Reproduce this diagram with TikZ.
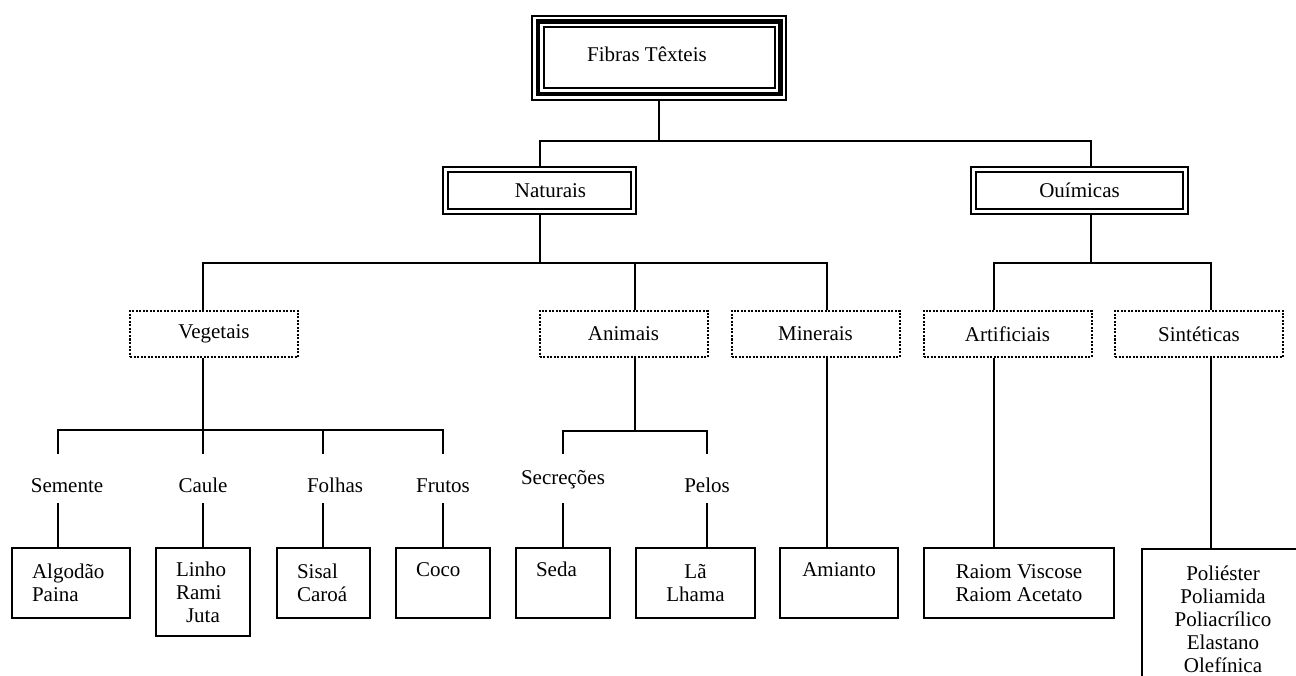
\documentclass[tikz,border=0pt]{standalone}
\usepackage{fontspec}
\setmainfont{Liberation Serif}

\begin{document}
\begin{tikzpicture}[x=1pt, y=-1pt,
    every node/.style={font=\fontsize{21}{23}\selectfont, inner sep=0pt},
    topbox/.style={draw, line width=4.5pt, preaction={draw, line width=13.5pt}, preaction={draw, white, line width=9.5pt}, outer sep=6.75pt, minimum width=242.5pt, minimum height=72.5pt, text depth=7pt},
    groupbox/.style={draw, line width=2pt, double, double distance=3pt, outer sep=3.5pt, minimum height=42pt},
    classbox/.style={draw, line width=2pt, dash pattern=on 2pt off 1.5pt, minimum width=168pt, minimum height=46pt},
    cat/.style={text height=38pt, text depth=11pt},
    leaf/.style={draw, line width=2pt, minimum height=70pt},
    leftleaf/.style={leaf, align=left, inner xsep=20pt},
    oneline/.style={text height=15pt, text depth=28pt},
    link/.style={line width=2pt}]

    \useasboundingbox (0,0) rectangle (1296,676);
    \clip (0,0) rectangle (1296,676);

    % Nodes
    \node [topbox] (title) at (659,58) {\hspace*{-24pt}Fibras Têxteis};
    \node [groupbox, minimum width=188pt] (nat) at (539.5,190.5) {\hspace*{22pt}Naturais};
    \node [groupbox, minimum width=212pt] (chem) at (1079.5,190.5) {Ouímicas};

    \node [classbox] (veg) at (214,334) {Vegetais};
    \node [classbox] (ani) at (623.5,334) {Animais};
    \node [classbox] (min) at (815.5,334) {Minerais};
    \node [classbox] (art) at (1007.5,334) {Artificiais};
    \node [classbox] (syn) at (1199,334) {Sintéticas};

    \node [cat] (sem) at (67,478.5) {Semente};
    \node [cat] (caule) at (203,478.5) {Caule};
    \node [cat] (folhas) at (335,478.5) {Folhas};
    \node [cat] (frutos) at (443,478.5) {Frutos};
    \node [cat, text height=30pt, text depth=19pt] (secr) at (563,478.5) {Secreções};
    \node [cat] (pelos) at (707,478.5) {Pelos};

    \node [leftleaf, text width=78pt] (alg) at (71,583) {Algodão\\Paina};
    \node [leftleaf, text width=54pt, minimum height=88pt] (lin) at (203,592) {Linho\\Rami\\\hspace*{10pt}Juta};
    \node [leftleaf, text width=53pt] (sis) at (323.5,583) {Sisal\\Caroá};
    \node [leftleaf, oneline, text width=54pt] (coco) at (443,583) {Coco};
    \node [leftleaf, oneline, text width=54pt] (seda) at (563,583) {Seda};
    \node [leaf, align=center, minimum width=119pt] (la) at (695.5,583) {Lã\\Lhama};
    \node [leaf, oneline, minimum width=118pt] (ami) at (839,583) {Amianto};
    \node [leaf, align=center, minimum width=190pt] (ray) at (1019,583) {Raiom Viscose\\Raiom Acetato};
    \node [leaf, align=center, minimum width=162pt, minimum height=140pt] (pol) at (1223,619) {Poliéster\\Poliamida\\Poliacrílico\\Elastano\\Olefínica};

    % Bus points
    \coordinate (b0) at (659,141);
    \coordinate (b1) at (539.5,263);
    \coordinate (b2) at (1091,263);
    \coordinate (b3) at (203,430);
    \coordinate (b4) at (635,431);

    % Lines
    \draw [link] (title.south) -- (b0);
    \draw [link] (nat.north) |- (b0) -| ([xshift=11.5pt]chem.north);

    \draw [link] (nat.south) -- (b1);
    \draw [link] ([xshift=-11pt]veg.north) |- (b1) -| ([xshift=11.5pt]min.north);
    \draw [link] ([xshift=11.5pt]ani.north) -- ([xshift=11.5pt]ani.north |- b1);

    \draw [link] ([xshift=11.5pt]chem.south) -- (b2);
    \draw [link] ([xshift=-13.5pt]art.north) |- (b2) -| ([xshift=12pt]syn.north);

    \draw [link] ([xshift=-11pt]veg.south) -- (caule.north);
    \draw [link] ([xshift=-9pt]sem.north) |- (b3) -| (frutos.north);
    \draw [link] ([xshift=-12pt]folhas.north) -- ([xshift=-12pt]folhas.north |- b3);

    \draw [link] ([xshift=-9pt]sem.south) -- ([xshift=-9pt]sem.south |- alg.north);
    \draw [link] (caule.south) -- (lin.north);
    \draw [link] ([xshift=-12pt]folhas.south) -- ([xshift=-12pt]folhas.south |- sis.north);
    \draw [link] (frutos.south) -- (coco.north);

    \draw [link] ([xshift=11.5pt]ani.south) -- (b4);
    \draw [link] (secr.north) |- (b4) -| (pelos.north);
    \draw [link] (secr.south) -- (seda.north);
    \draw [link] (pelos.south) -- (pelos.south |- la.north);

    \draw [link] ([xshift=11.5pt]min.south) -- ([xshift=11.5pt]min.south |- ami.north);
    \draw [link] ([xshift=-13.5pt]art.south) -- ([xshift=-13.5pt]art.south |- ray.north);
    \draw [link] ([xshift=12pt]syn.south) -- ([xshift=12pt]syn.south |- pol.north);

\end{tikzpicture}
\end{document}
